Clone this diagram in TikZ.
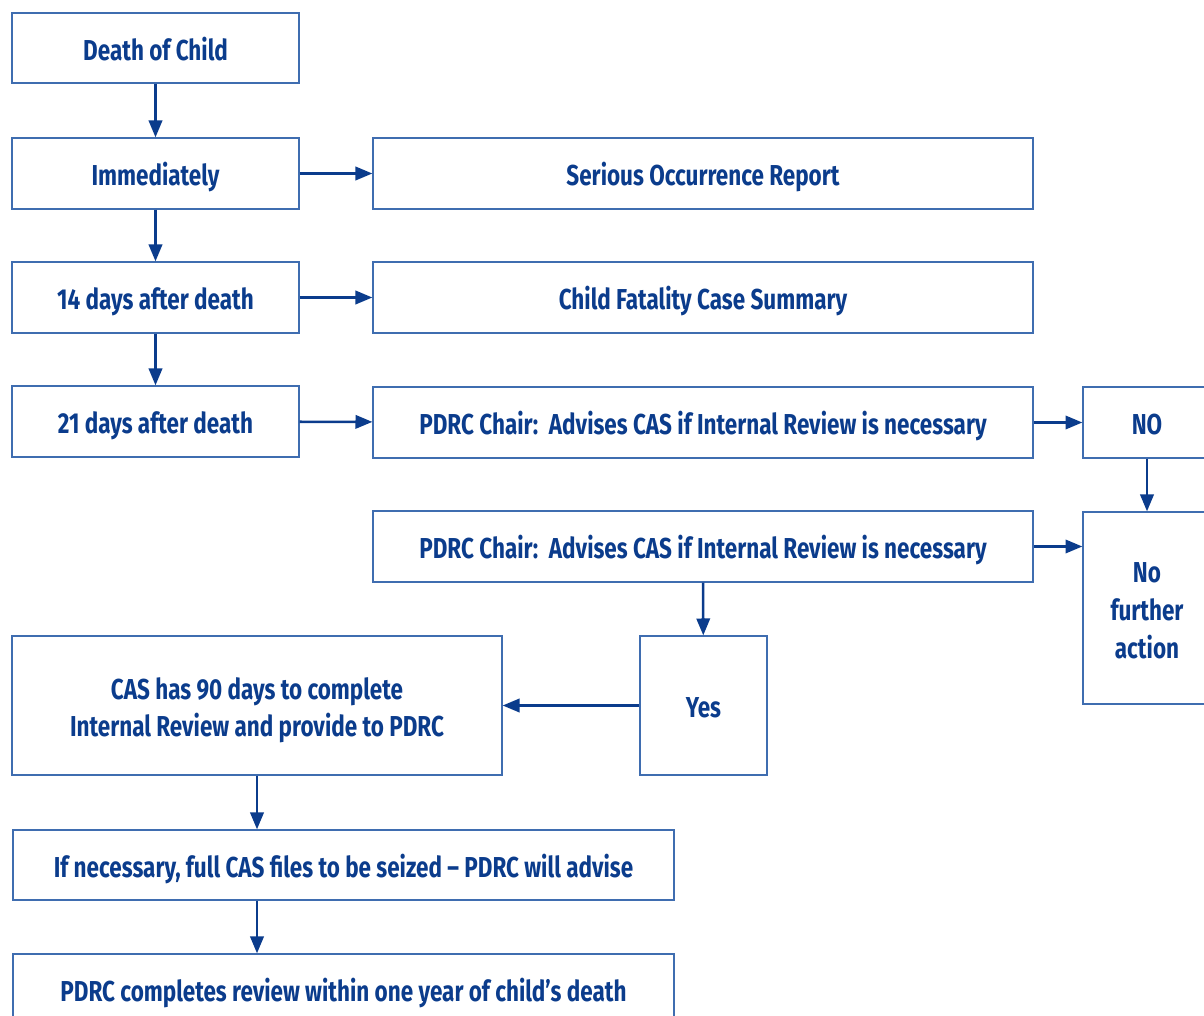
\documentclass[tikz,border=0pt]{standalone}
\usepackage{fontspec}
\setmainfont{Fira Sans}[FakeStretch=0.78]
\usetikzlibrary{arrows.meta}
\definecolor{boxline}{HTML}{3F6DB0}
\definecolor{textblue}{HTML}{0B3C8C}
\newlength\px
\setlength\px{0.025cm}

\begin{document}
\begin{tikzpicture}[
    x=\px, y=-\px,
    boxbase/.style={draw=boxline, line width=0.9pt, inner sep=0pt,
        text=textblue, font=\fontsize{20.5}{26}\selectfont\bfseries},
    box/.style={boxbase, text height=17.5pt, text depth=0pt},
    tallbox/.style={boxbase, align=center},
    flow/.style={-{Triangle[length=12pt, width=9.5pt]}, draw=textblue, line width=1.8pt}
]
    \useasboundingbox (0,0) rectangle (1204,1016);
    \clip (0,0) rectangle (1204,1016);

    % Timeline on the left
    \node[box, minimum width=287\px, minimum height=70\px] (death) at (155.5,48) {Death of Child};
    \node[box, minimum width=287\px, minimum height=71\px] (imm) at (155.5,173.5) {Immediately};
    \node[box, minimum width=287\px, minimum height=71\px] (day14) at (155.5,297.5) {14 days after death};
    \node[box, minimum width=287\px, minimum height=71\px] (day21) at (155.5,421.5) {21 days after death};

    % Reports
    \node[box, minimum width=660\px, minimum height=71\px] (sor) at (703,173.5) {Serious Occurrence Report};
    \node[box, minimum width=660\px, minimum height=71\px] (cfcs) at (703,297.5) {Child Fatality Case Summary};
    \node[box, minimum width=660\px, minimum height=71\px] (chair1) at (703,422.5) {PDRC Chair:\ \ Advises CAS if Internal Review is necessary};
    \node[box, minimum width=660\px, minimum height=71\px] (chair2) at (703,546.5) {PDRC Chair:\ \ Advises CAS if Internal Review is necessary};

    % Decisions
    \node[box, minimum width=128\px, minimum height=71\px] (no) at (1147,422.5) {NO};
    \node[tallbox, minimum width=128\px, minimum height=192\px] (nfa) at (1147,608) {\rule{0pt}{18.5pt}No\\[1pt]further\\[1pt]action};
    \node[box, minimum width=127\px, minimum height=139\px] (yes) at (703.5,705.5) {Yes};

    % Internal review
    \node[tallbox, minimum width=490\px, minimum height=139\px] (cas) at (257,705.5) {\rule{0pt}{22pt}CAS has 90 days to complete\\Internal Review and provide to PDRC};
    \node[box, minimum width=661\px, minimum height=70\px] (seize) at (343.5,865) {If necessary, full CAS files to be seized -- PDRC will advise};
    \node[box, minimum width=661\px, minimum height=70\px] (final) at (343.5,989) {PDRC completes review within one year of child’s death};

    % Arrows
    \draw[flow] (death) -- (imm);
    \draw[flow] (imm) -- (day14);
    \draw[flow] (day14) -- (day21);
    \draw[flow] (imm) -- (sor);
    \draw[flow] (day14) -- (cfcs);
    \draw[flow] (day21) -- (chair1);
    \draw[flow] (chair1) -- (no);
    \draw[flow] (no) -- (nfa);
    \draw[flow] (chair2.east) -- (chair2.east -| nfa.west);
    \draw[flow] (chair2) -- (yes);
    \draw[flow] (yes) -- (cas);
    \draw[flow] (cas.south) -- (cas.south |- seize.north);
    \draw[flow] (cas.south |- seize.south) -- (cas.south |- final.north);
\end{tikzpicture}
\end{document}
